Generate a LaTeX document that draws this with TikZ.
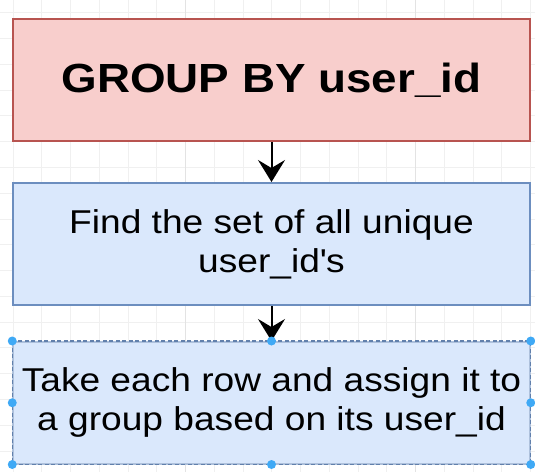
\documentclass[tikz,border=0pt]{standalone}
\usepackage{fontspec}
\setmainfont{Liberation Sans}[FakeStretch=1.125]
\usetikzlibrary{positioning,arrows.meta}
\definecolor{DIOred}{HTML}{F8CECC}
\definecolor{DIOredline}{HTML}{B85450}
\definecolor{DIOblue}{HTML}{DAE8FC}
\definecolor{DIOblueline}{HTML}{6C8EBF}
\definecolor{DIOhandle}{HTML}{3FA9F5}
\definecolor{DIOgrid}{HTML}{F0F0F0}
\definecolor{DIOgridmajor}{HTML}{E3E3E3}
\newcommand{\boxwidth}{517pt}
\newcommand{\boxheight}{122pt}
\newcommand{\handlerad}{4.5pt}
\newcommand{\gridx}{28.75}
\newcommand{\gridy}{25.78}
\tikzset{
  stepbox/.style={draw, line width=2pt, minimum width=\boxwidth,
    minimum height=\boxheight, align=center, inner sep=0pt},
  redbox/.style={stepbox, fill=DIOred, draw=DIOredline,
    font=\fontsize{40.7}{46}\selectfont\bfseries},
  bluebox/.style={stepbox, fill=DIOblue, draw=DIOblueline,
    font=\fontsize{33}{39}\selectfont},
  selbox/.style={bluebox, line width=1.5pt, draw=DIOblueline!55},
  seldash/.style={draw=DIOblueline!90!black, line width=1.2pt,
    dash pattern=on 4pt off 2.5pt},
  flow/.style={line width=2pt, -{Stealth[length=22pt,width=27pt,inset=8pt]}},
  handle/.style={fill=DIOhandle}
}

\begin{document}
\begin{tikzpicture}[x=1pt, y=-1pt]

  \useasboundingbox (0,0) rectangle (535,472);

  % draw the grid
  \foreach \k in {-1,...,18}
  {
    \draw[DIOgrid, line width=0.8pt] ({13+\gridx*\k},0) -- ({13+\gridx*\k},472);
    \draw[DIOgrid, line width=0.8pt] (0,{12.7+\gridy*\k}) -- (535,{12.7+\gridy*\k});
  }
  \foreach \k in {6,14}
    \draw[DIOgridmajor, line width=0.9pt] ({13+\gridx*\k},0) -- ({13+\gridx*\k},472);

  % the three steps
  \node[redbox] (groupby) at (271.5,80) {GROUP BY user\_id};
  \node[bluebox, below=40pt of groupby] (findset)
    {Find the set of all unique\\user\_id\textquotesingle s};
  \node[selbox, below=35pt of findset] (assign)
    {Take each row and assign it to\\a group based on its user\_id};
  \draw[seldash] (assign.north west) rectangle (assign.south east);

  % arrows
  \draw[flow] (groupby) -- (findset);
  \draw[flow] (findset) -- (assign);

  % selection handles
  \foreach \a in {north west,north,north east,west,east,south west,south,south east}
    \fill[handle] (assign.\a) circle (\handlerad);

\end{tikzpicture}
\end{document}
